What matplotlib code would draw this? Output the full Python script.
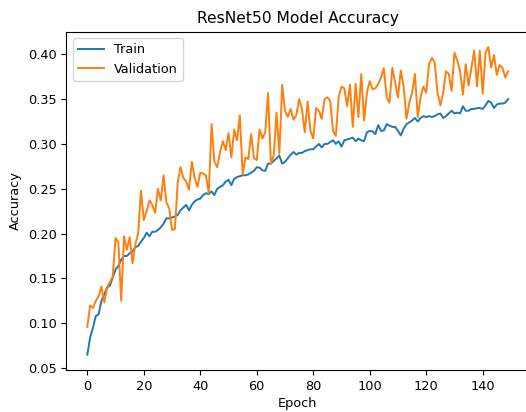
import numpy as np
import matplotlib
matplotlib.use("Agg")
import matplotlib.pyplot as plt

# accuracy per epoch
train_acc = [
    0.065, 0.084, 0.095, 0.108, 0.110, 0.125, 0.132, 0.140, 0.142, 0.151,
    0.160, 0.164, 0.171, 0.175, 0.175, 0.178, 0.180, 0.185, 0.186, 0.191,
    0.195, 0.201, 0.197, 0.202, 0.202, 0.204, 0.207, 0.211, 0.217, 0.217,
    0.218, 0.219, 0.221, 0.226, 0.229, 0.232, 0.226, 0.232, 0.236, 0.238,
    0.239, 0.243, 0.245, 0.244, 0.247, 0.243, 0.250, 0.252, 0.254, 0.258,
    0.260, 0.254, 0.261, 0.263, 0.264, 0.265, 0.265, 0.266, 0.268, 0.270,
    0.274, 0.2735, 0.2705, 0.270, 0.278, 0.278, 0.281, 0.284, 0.287, 0.278,
    0.280, 0.284, 0.288, 0.291, 0.288, 0.290, 0.290, 0.292, 0.293, 0.294,
    0.294, 0.297, 0.300, 0.296, 0.300, 0.300, 0.302, 0.304, 0.300, 0.303,
    0.297, 0.304, 0.305, 0.306, 0.307, 0.303, 0.306, 0.304, 0.303, 0.313,
    0.3145, 0.314, 0.311, 0.321, 0.3145, 0.315, 0.322, 0.3205, 0.319, 0.319,
    0.3145, 0.3095, 0.317, 0.322, 0.324, 0.326, 0.329, 0.325, 0.329, 0.331,
    0.330, 0.331, 0.330, 0.331, 0.333, 0.334, 0.329, 0.331, 0.334, 0.337,
    0.334, 0.335, 0.334, 0.342, 0.337, 0.337, 0.339, 0.339, 0.340, 0.340,
    0.339, 0.343, 0.348, 0.346, 0.340, 0.344, 0.345, 0.345, 0.346, 0.350,
]

val_acc = [
    0.096, 0.120, 0.117, 0.125, 0.130, 0.141, 0.123, 0.140, 0.146, 0.152,
    0.195, 0.190, 0.125, 0.197, 0.182, 0.196, 0.167, 0.188, 0.200, 0.248,
    0.215, 0.225, 0.237, 0.232, 0.223, 0.250, 0.237, 0.265, 0.235, 0.228,
    0.204, 0.205, 0.257, 0.274, 0.262, 0.258, 0.249, 0.280, 0.262, 0.252,
    0.268, 0.267, 0.265, 0.245, 0.322, 0.280, 0.274, 0.291, 0.303, 0.293,
    0.312, 0.285, 0.316, 0.304, 0.332, 0.266, 0.285, 0.283, 0.311, 0.284,
    0.282, 0.316, 0.306, 0.313, 0.357, 0.278, 0.287, 0.335, 0.289, 0.366,
    0.337, 0.330, 0.339, 0.327, 0.332, 0.350, 0.339, 0.313, 0.3475, 0.3145,
    0.306, 0.340, 0.337, 0.328, 0.350, 0.352, 0.348, 0.3145, 0.309, 0.352,
    0.364, 0.362, 0.342, 0.366, 0.319, 0.367, 0.330, 0.378, 0.326, 0.357,
    0.370, 0.361, 0.362, 0.367, 0.374, 0.3845, 0.352, 0.346, 0.385, 0.3685,
    0.352, 0.382, 0.364, 0.328, 0.346, 0.357, 0.378, 0.330, 0.352, 0.364,
    0.357, 0.389, 0.396, 0.391, 0.357, 0.343, 0.357, 0.381, 0.378, 0.359,
    0.402, 0.393, 0.381, 0.355, 0.389, 0.365, 0.385, 0.404, 0.364, 0.404,
    0.356, 0.402, 0.408, 0.385, 0.399, 0.377, 0.388, 0.385, 0.374, 0.381,
]

epochs = np.arange(len(train_acc))

# reference looks like a slightly shrunk default figure
plt.rcParams['font.size'] = 9.3

fig = plt.figure(figsize=(5.26, 4.12), dpi=100)
# the reference was cropped tight, so the right spine sits just past the edge
fig.subplots_adjust(left=0.126, right=1.006, bottom=0.102, top=0.923)
ax = fig.add_subplot(111)

ax.plot(epochs, train_acc, label='Train', lw=1.4)
ax.plot(epochs, val_acc, label='Validation', lw=1.4)

ax.set_title('ResNet50 Model Accuracy')
ax.set_xlabel('Epoch', labelpad=3)
ax.set_ylabel('Accuracy')
ax.legend(loc='upper left')

fig.savefig('out.png', dpi=100)
